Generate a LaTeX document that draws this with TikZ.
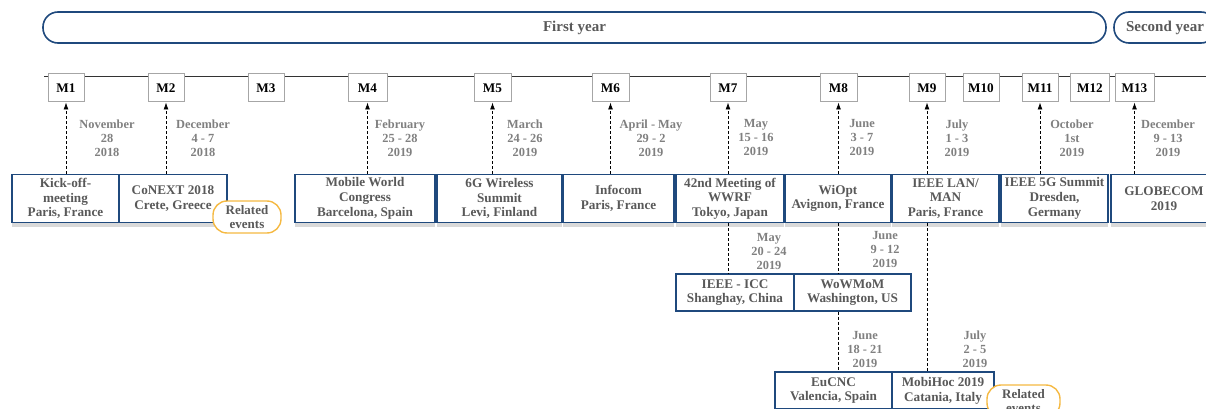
\documentclass[tikz,border=0pt]{standalone}
\usepackage{fontspec}
\setmainfont{Liberation Serif}
\usetikzlibrary{arrows.meta,shadows}
\definecolor{evblue}{RGB}{31,73,125}
\definecolor{evgray}{RGB}{89,89,89}
\definecolor{dategray}{RGB}{128,128,128}
\definecolor{mgray}{RGB}{166,166,166}
\definecolor{relorange}{RGB}{245,185,66}
\tikzset{
    month/.style={draw=mgray, line width=1pt, fill=white, minimum height=28pt, inner sep=0pt, font=\fontsize{13.2}{14}\selectfont\bfseries},
    event/.style={draw=evblue, line width=1.4pt, fill=white, inner sep=0pt, align=center, text=evgray, font=\fontsize{13.2}{14.7}\selectfont\bfseries},
    firstrow/.style={event, minimum height=48pt, drop shadow={shadow xshift=0pt, shadow yshift=-4pt, fill=black!15, opacity=1}},
    laterrow/.style={event, minimum height=37pt},
    when/.style={align=center, text=dategray, inner sep=0pt, font=\fontsize{12.4}{14}\selectfont\bfseries},
    link/.style={line width=0.8pt, dash pattern=on 3pt off 2pt},
    uplink/.style={link, -{Latex[length=7pt,width=5pt]}},
    related/.style={draw=relorange, line width=1.4pt, fill=white, rounded corners=14pt, minimum height=32pt, inner sep=0pt, align=center, text=evgray, font=\fontsize{13}{14}\selectfont\bfseries},
    yearbox/.style={draw=evblue, line width=1.6pt, rounded corners=15pt, minimum height=31pt, inner sep=0pt, text=evgray, font=\fontsize{15}{18}\selectfont\bfseries}
}
\begin{document}
\begin{tikzpicture}[x=1pt, y=-1pt]
            \useasboundingbox (0,0) rectangle (1206,409);
            \clip (0,0) rectangle (1206,409);

            \node at (574.5,27.5) [yearbox, minimum width=1063pt] (first) {First year};
            \node at (1165,27.5) [yearbox, minimum width=102pt] (second) {Second year};

            \coordinate (start) at (44,77);
            \coordinate (end) at (1206,77);
            \draw [line width=1pt, black!80] (start) -- (end);

            \node at (66,88) [month, minimum width=36pt] (m1) {M1};
            \node at (166,88) [month, minimum width=36pt] (m2) {M2};
            \node at (266,88) [month, minimum width=36pt] (m3) {M3};
            \node at (367.5,88) [month, minimum width=39pt] (m4) {M4};
            \node at (492.5,88) [month, minimum width=37pt] (m5) {M5};
            \node at (610.5,88) [month, minimum width=37pt] (m6) {M6};
            \node at (728,88) [month, minimum width=36pt] (m7) {M7};
            \node at (838.5,88) [month, minimum width=37pt] (m8) {M8};
            \node at (927,88) [month, minimum width=36pt] (m9) {M9};
            \node at (981,88) [month, minimum width=36pt] (m10) {M10};
            \node at (1040,88) [month, minimum width=36pt] (m11) {M11};
            \node at (1090,88) [month, minimum width=39pt] (m12) {M12};
            \node at (1134.5,88) [month, minimum width=39pt] (m13) {M13};

            \node at (107,138) [when] (nov) {November\\28\\2018};
            \node at (203,138) [when] (dec) {December\\4 - 7\\2018};
            \node at (400,138) [when] (feb) {February\\25 - 28\\2019};
            \node at (525,138) [when] (mar) {March\\24 - 26\\2019};
            \node at (651,138) [when] (aprmay) {April - May\\29 - 2\\2019};
            \node at (756,138) [when] (maya) {May\\15 - 16\\2019};
            \node at (862,138) [when] (junea) {June\\3 - 7\\2019};
            \node at (957,138) [when] (julya) {July\\1 - 3\\2019};
            \node at (1072,138) [when] (oct) {October\\1st\\2019};
            \node at (1168,138) [when] (decb) {December\\9 - 13\\2019};
            \node at (769,251) [when] (mayb) {May\\20 - 24\\2019};
            \node at (885,249) [when] (juneb) {June\\9 - 12\\2019};
            \node at (865,349) [when] (junec) {June\\18 - 21\\2019};
            \node at (975,349) [when] (julyb) {July\\2 - 5\\2019};

            \node at (65.5,198.5) [firstrow, minimum width=107pt] (kickoff) {Kick-off-\\meeting\\Paris, France};
            \node at (173,198.5) [firstrow, minimum width=108pt] (conext) {CoNEXT 2018\\Crete, Greece};
            \node at (365,198.5) [firstrow, minimum width=140pt] (mwc) {Mobile World\\Congress\\Barcelona, Spain};
            \node at (499.5,198.5) [firstrow, minimum width=125pt] (sixg) {6G Wireless\\Summit\\Levi, Finland};
            \node at (618.5,198.5) [firstrow, minimum width=111pt] (infocom) {Infocom\\Paris, France};
            \node at (730,198.5) [firstrow, minimum width=108pt] (wwrf) {42nd Meeting of\\WWRF\\Tokyo, Japan};
            \node at (838,198.5) [firstrow, minimum width=106pt] (wiopt) {WiOpt\\Avignon, France};
            \node at (945.5,198.5) [firstrow, minimum width=107pt] (lanman) {IEEE LAN/\\MAN\\Paris, France};
            \node at (1054.5,198.5) [firstrow, minimum width=107pt] (summit) {IEEE 5G Summit\\Dresden,\\Germany};
            \node at (1164,198.5) [firstrow, minimum width=106pt] (globecom) {GLOBECOM\\2019};

            \node at (735,292.5) [laterrow, minimum width=118pt] (icc) {IEEE - ICC\\Shanghay, China};
            \node at (852.5,292.5) [laterrow, minimum width=117pt] (wowmom) {WoWMoM\\Washington, US};
            \node at (833.5,390.5) [laterrow, minimum width=117pt] (eucnc) {EuCNC\\Valencia, Spain};
            \node at (943,390.5) [laterrow, minimum width=102pt] (mobihoc) {MobiHoc 2019\\Catania, Italy};

            \node at (247,217) [related, minimum width=68pt] (relA) {Related\\events};
            \node at (1023.5,401) [related, minimum width=73pt] (relB) {Related\\events};

            \draw [uplink] (kickoff.north -| m1) -- (m1.south);
            \draw [uplink] (conext.north -| m2) -- (m2.south);
            \draw [uplink] (mwc.north -| m4) -- (m4.south);
            \draw [uplink] (sixg.north -| m5) -- (m5.south);
            \draw [uplink] (infocom.north -| m6) -- (m6.south);
            \draw [uplink] (wwrf.north -| m7) -- (m7.south);
            \draw [uplink] (wiopt.north -| m8) -- (m8.south);
            \draw [uplink] (lanman.north -| m9) -- (m9.south);
            \draw [uplink] (summit.north -| m11) -- (m11.south);
            \draw [uplink] (globecom.north -| m13) -- (m13.south);

            \draw [link] (wwrf.south -| m7) -- (icc.north -| m7);
            \draw [link] (wiopt.south -| m8) -- (wowmom.north -| m8);
            \draw [link] (wowmom.south -| m8) -- (eucnc.north -| m8);
            \draw [link] (lanman.south -| m9) -- (mobihoc.north -| m9);
        \end{tikzpicture}
\end{document}
